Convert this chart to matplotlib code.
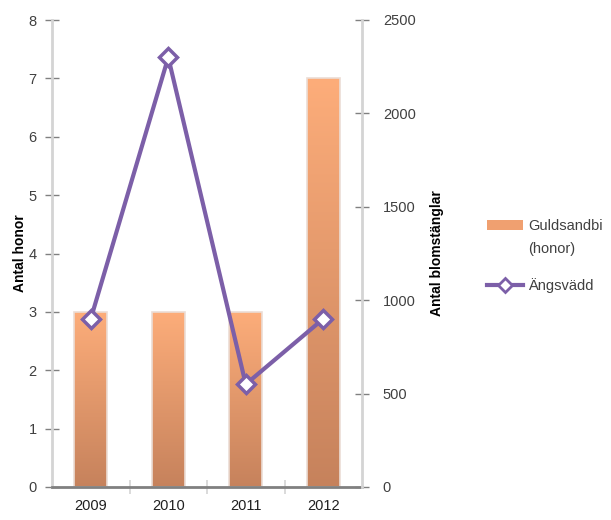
import matplotlib
matplotlib.use("Agg")
import matplotlib.pyplot as plt
import numpy as np
from matplotlib.patches import Patch
from matplotlib.lines import Line2D
from matplotlib.colors import LinearSegmentedColormap

plt.rcParams['font.family'] = ['Liberation Sans', 'DejaVu Sans']

# data
years = ['2009', '2010', '2011', '2012']
honor = [3, 3, 3, 7]              # Guldsandbi (honor), left axis
blomstanglar = [900, 2300, 550, 900]  # Ängsvädd, right axis

purple = '#7C5FA8'
grey = '#808080'
light = '#D4D4D4'
txt = '#404040'

fig = plt.figure(figsize=(6.11, 5.2), dpi=100)
ax = fig.add_axes([52 / 611, 1 - 487 / 520, 310 / 611, 467 / 520])

x = np.arange(len(years))
bw = 0.42
bars = ax.bar(x, honor, width=bw, color='none', edgecolor='#EBDDD5', linewidth=1.2, zorder=2)

# vertical gradient fill for each bar
cmap = LinearSegmentedColormap.from_list('bar', ['#C6825C', '#FDAD7A'])
grad = np.linspace(0, 1, 256).reshape(-1, 1)
for b in bars:
    bx, by = b.get_x(), b.get_y()
    im = ax.imshow(grad, cmap=cmap, origin='lower', aspect='auto',
                   extent=[bx, bx + b.get_width(), by, by + b.get_height()], zorder=1)
    im.set_clip_path(b)

ax.set_xlim(-0.5, 3.5)
ax.set_ylim(0, 8)
ax.set_yticks(range(0, 9))
ax.set_ylabel('Antal honor', fontsize=10, fontweight='bold', labelpad=1)

# category labels centred, separator ticks between categories
ax.set_xticks([0.5, 1.5, 2.5])
ax.set_xticklabels([])
ax.set_xticks(x, minor=True)
ax.set_xticklabels(years, minor=True)
ax.tick_params(axis='x', which='major', direction='inout', length=10, color=light, width=1.2)
ax.tick_params(axis='x', which='minor', length=0, pad=9, labelsize=10.5, labelcolor='#202020')
ax.tick_params(axis='y', direction='inout', length=10, color=grey, width=1, labelsize=10.5,
               labelcolor=txt, pad=6)

for s in ['top', 'right']:
    ax.spines[s].set_visible(False)
ax.spines['left'].set_color(light)
ax.spines['left'].set_linewidth(2)
ax.spines['bottom'].set_color(grey)
ax.spines['bottom'].set_linewidth(2)
ax.spines['bottom'].set_zorder(3)

ax2 = ax.twinx()
ax2.plot(x, blomstanglar, color=purple, linewidth=3, marker='D', markersize=9,
         markerfacecolor='white', markeredgecolor=purple, markeredgewidth=2.5, zorder=5)
ax2.set_ylim(0, 2500)
ax2.set_yticks(range(0, 2501, 500))
ax2.set_ylabel('Antal blomstänglar', fontsize=10, fontweight='bold', labelpad=10)
ax2.tick_params(axis='y', direction='inout', length=10, color=grey, width=1, labelsize=10.5,
                labelcolor=txt, pad=10)
for s in ['top', 'left', 'bottom']:
    ax2.spines[s].set_visible(False)
ax2.spines['right'].set_color(light)
ax2.spines['right'].set_linewidth(2)

# legend: patch sits beside the first line of the bar label
handles = [Patch(facecolor='#F0A070', edgecolor='none'),
           Line2D([], [], color=purple, linewidth=3, marker='D', markersize=7,
                  markerfacecolor='white', markeredgecolor=purple, markeredgewidth=2)]
leg = fig.legend(handles, ['Guldsandbi', 'Ängsvädd'], loc='upper left',
                 bbox_to_anchor=(487 / 611, 1 - 219 / 520), frameon=False, fontsize=10.5,
                 handlelength=2.5, handletextpad=0.3, labelspacing=3.1, borderpad=0,
                 borderaxespad=0, labelcolor=txt)
fig.text(528 / 611, 1 - 249 / 520, '(honor)', fontsize=10.5, color=txt,
         ha='left', va='center')

fig.savefig('out.png', dpi=100)
